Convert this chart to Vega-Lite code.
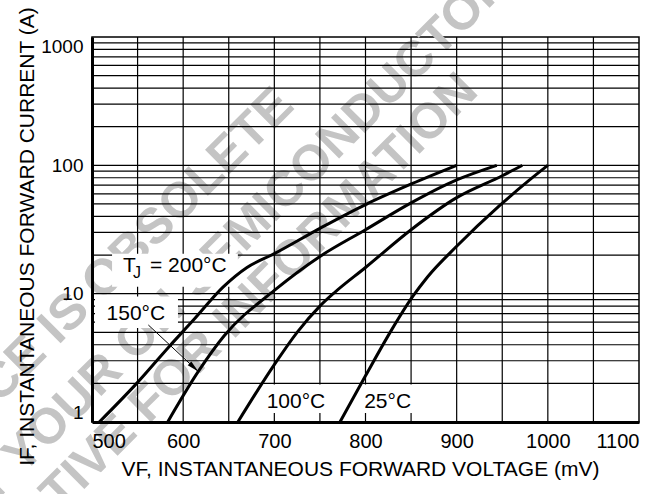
{
  "$schema": "https://vega.github.io/schema/vega-lite/v6.json",
  "autosize": "none",
  "width": 547,
  "height": 385,
  "padding": {"left": 92, "top": 37, "right": 25, "bottom": 72},
  "background": "white",
  "config": {
    "view": {"stroke": "black", "strokeWidth": 1.5},
    "font": "Liberation Sans",
    "axis": {"grid": false, "ticks": false, "tickSize": 0, "domainColor": "black", "domainWidth": 3, "labelColor": "black", "titleColor": "black", "labelFont": "Liberation Sans", "titleFont": "Liberation Sans", "titleFontWeight": "normal", "labelOverlap": false, "labelFlush": true, "labelPadding": 9, "titleFontSize": 21, "titleBaseline": "alphabetic"},
    "axisX": {"labelFontSize": 20, "titleX": 268, "titleY": 53},
    "axisY": {"labelFontSize": 19, "titleX": -59, "titleY": 199}
  },
  "datasets": {
    "curves": [
      {"t": "200", "v": 508, "i": 1}, {"t": "200", "v": 549, "i": 2}, {"t": "200", "v": 585, "i": 3.9}, {"t": "200", "v": 611, "i": 6.2}, {"t": "200", "v": 644, "i": 11.3}, {"t": "200", "v": 670, "i": 16}, {"t": "200", "v": 700, "i": 20.5}, {"t": "200", "v": 750, "i": 32.3}, {"t": "200", "v": 800, "i": 49.5}, {"t": "200", "v": 851, "i": 72}, {"t": "200", "v": 900, "i": 100},
      {"t": "150", "v": 583, "i": 1}, {"t": "150", "v": 617, "i": 2.5}, {"t": "150", "v": 645, "i": 4.7}, {"t": "150", "v": 700, "i": 10.6}, {"t": "150", "v": 750, "i": 19.5}, {"t": "150", "v": 800, "i": 31.5}, {"t": "150", "v": 850, "i": 51}, {"t": "150", "v": 900, "i": 77}, {"t": "150", "v": 944, "i": 100},
      {"t": "100", "v": 660, "i": 1}, {"t": "100", "v": 700, "i": 2.8}, {"t": "100", "v": 725, "i": 5}, {"t": "100", "v": 750, "i": 8}, {"t": "100", "v": 766, "i": 10.2}, {"t": "100", "v": 800, "i": 16}, {"t": "100", "v": 850, "i": 31.5}, {"t": "100", "v": 900, "i": 56}, {"t": "100", "v": 950, "i": 83}, {"t": "100", "v": 972, "i": 100},
      {"t": "25", "v": 772, "i": 1}, {"t": "25", "v": 800, "i": 2.29}, {"t": "25", "v": 828, "i": 5.13}, {"t": "25", "v": 852, "i": 9.55}, {"t": "25", "v": 868, "i": 13.5}, {"t": "25", "v": 900, "i": 23.4}, {"t": "25", "v": 947, "i": 48.5}, {"t": "25", "v": 979, "i": 76}, {"t": "25", "v": 1000, "i": 100}
    ],
    "vgrid": [{"v": 550}, {"v": 600}, {"v": 650}, {"v": 700}, {"v": 750}, {"v": 800}, {"v": 850}, {"v": 900}, {"v": 950}, {"v": 1000}, {"v": 1050}],
    "hgrid": [{"i": 2}, {"i": 3}, {"i": 4}, {"i": 5}, {"i": 6}, {"i": 7}, {"i": 8}, {"i": 9}, {"i": 10}, {"i": 20}, {"i": 30}, {"i": 40}, {"i": 50}, {"i": 60}, {"i": 70}, {"i": 80}, {"i": 90}, {"i": 100}, {"i": 200}, {"i": 300}, {"i": 400}, {"i": 500}, {"i": 600}, {"i": 700}, {"i": 800}, {"i": 900}],
    "boxes": [
      {"v": 522, "v2": 660, "i": 11.3, "i2": 20.5},
      {"v": 503.3, "v2": 594.3, "i": 5.4, "i2": 9.5},
      {"v": 686.5, "v2": 763, "i": 1.175, "i2": 1.96},
      {"v": 791.8, "v2": 855.4, "i": 1.175, "i2": 1.96}
    ],
    "labels": [
      {"t": "T", "v": 534, "i": 14.75},
      {"t": "= 200°C", "v": 563.6, "i": 14.75},
      {"t": "150°C", "v": 516, "i": 6.24},
      {"t": "100°C", "v": 691.6, "i": 1.285},
      {"t": "25°C", "v": 798.5, "i": 1.285}
    ],
    "subs": [{"t": "J", "v": 545, "i": 13.28}],
    "arrow": [{"v": 561.8, "i": 5.7, "v2": 616.6, "i2": 2.47}],
    "watermark": [
      {"t": "THIS DEVICE IS OBSOLETE", "v": 712, "i": 340},
      {"t": "CONTACT YOUR ON SEMICONDUCTOR", "v": 950, "i": 3100},
      {"t": "REPRESENTATIVE FOR INFORMATION", "v": 914, "i": 441}
    ]
  },
  "layer": [
    {
      "data": {"name": "watermark"},
      "mark": {"type": "text", "angle": -45, "align": "right", "baseline": "middle", "fontSize": 50, "fontWeight": "bold", "font": "Liberation Sans", "color": "#c4c4c4"},
      "encoding": {
        "x": {"field": "v", "type": "quantitative", "scale": {"domain": [500, 1100], "nice": false, "zero": false}, "axis": {"values": [500, 600, 700, 800, 900, 1000, 1100], "format": "d", "zindex": 1, "title": "VF, INSTANTANEOUS FORWARD VOLTAGE (mV)"}},
        "y": {"field": "i", "type": "quantitative", "scale": {"type": "log", "domain": [1, 1000], "nice": false}, "axis": {"values": [1, 10, 100, 1000], "format": "d", "zindex": 1, "title": "IF, INSTANTANEOUS FORWARD CURRENT (A)"}},
        "text": {"field": "t"}
      }
    },
    {
      "data": {"name": "vgrid"},
      "mark": {"type": "rule", "color": "black", "strokeWidth": 1.2},
      "encoding": {"x": {"field": "v", "type": "quantitative", "scale": {"domain": [500, 1100], "nice": false, "zero": false}, "axis": {"values": [500, 600, 700, 800, 900, 1000, 1100], "format": "d", "zindex": 1, "title": "VF, INSTANTANEOUS FORWARD VOLTAGE (mV)"}}}
    },
    {
      "data": {"name": "hgrid"},
      "mark": {"type": "rule", "color": "black", "strokeWidth": 1.2},
      "encoding": {"y": {"field": "i", "type": "quantitative", "scale": {"type": "log", "domain": [1, 1000], "nice": false}, "axis": {"values": [1, 10, 100, 1000], "format": "d", "zindex": 1, "title": "IF, INSTANTANEOUS FORWARD CURRENT (A)"}}}
    },
    {
      "data": {"name": "boxes"},
      "mark": {"type": "rect", "color": "white"},
      "encoding": {
        "x": {"field": "v", "type": "quantitative", "scale": {"domain": [500, 1100], "nice": false, "zero": false}, "axis": {"values": [500, 600, 700, 800, 900, 1000, 1100], "format": "d", "zindex": 1, "title": "VF, INSTANTANEOUS FORWARD VOLTAGE (mV)"}},
        "x2": {"field": "v2"},
        "y": {"field": "i", "type": "quantitative", "scale": {"type": "log", "domain": [1, 1000], "nice": false}, "axis": {"values": [1, 10, 100, 1000], "format": "d", "zindex": 1, "title": "IF, INSTANTANEOUS FORWARD CURRENT (A)"}},
        "y2": {"field": "i2"}
      }
    },
    {
      "data": {"name": "curves"},
      "mark": {"type": "line", "color": "black", "strokeWidth": 3, "interpolate": "monotone"},
      "encoding": {
        "x": {"field": "v", "type": "quantitative", "scale": {"domain": [500, 1100], "nice": false, "zero": false}, "axis": {"values": [500, 600, 700, 800, 900, 1000, 1100], "format": "d", "zindex": 1, "title": "VF, INSTANTANEOUS FORWARD VOLTAGE (mV)"}},
        "y": {"field": "i", "type": "quantitative", "scale": {"type": "log", "domain": [1, 1000], "nice": false}, "axis": {"values": [1, 10, 100, 1000], "format": "d", "zindex": 1, "title": "IF, INSTANTANEOUS FORWARD CURRENT (A)"}},
        "detail": {"field": "t"},
        "order": {"field": "v", "type": "quantitative"}
      }
    },
    {
      "data": {"name": "arrow"},
      "mark": {"type": "rule", "color": "black", "strokeWidth": 1},
      "encoding": {
        "x": {"field": "v", "type": "quantitative", "scale": {"domain": [500, 1100], "nice": false, "zero": false}, "axis": {"values": [500, 600, 700, 800, 900, 1000, 1100], "format": "d", "zindex": 1, "title": "VF, INSTANTANEOUS FORWARD VOLTAGE (mV)"}},
        "y": {"field": "i", "type": "quantitative", "scale": {"type": "log", "domain": [1, 1000], "nice": false}, "axis": {"values": [1, 10, 100, 1000], "format": "d", "zindex": 1, "title": "IF, INSTANTANEOUS FORWARD CURRENT (A)"}},
        "x2": {"field": "v2"},
        "y2": {"field": "i2"}
      }
    },
    {
      "data": {"name": "arrow"},
      "mark": {"type": "point", "shape": "M0,0L-0.22,1L0.22,1Z", "angle": 133, "size": 576, "filled": true, "color": "black", "opacity": 1, "strokeWidth": 0},
      "encoding": {
        "x": {"field": "v2", "type": "quantitative", "scale": {"domain": [500, 1100], "nice": false, "zero": false}, "axis": {"values": [500, 600, 700, 800, 900, 1000, 1100], "format": "d", "zindex": 1, "title": "VF, INSTANTANEOUS FORWARD VOLTAGE (mV)"}},
        "y": {"field": "i2", "type": "quantitative", "scale": {"type": "log", "domain": [1, 1000], "nice": false}, "axis": {"values": [1, 10, 100, 1000], "format": "d", "zindex": 1, "title": "IF, INSTANTANEOUS FORWARD CURRENT (A)"}}
      }
    },
    {
      "data": {"name": "labels"},
      "mark": {"type": "text", "align": "left", "baseline": "alphabetic", "fontSize": 21, "font": "Liberation Sans", "color": "black"},
      "encoding": {
        "x": {"field": "v", "type": "quantitative", "scale": {"domain": [500, 1100], "nice": false, "zero": false}, "axis": {"values": [500, 600, 700, 800, 900, 1000, 1100], "format": "d", "zindex": 1, "title": "VF, INSTANTANEOUS FORWARD VOLTAGE (mV)"}},
        "y": {"field": "i", "type": "quantitative", "scale": {"type": "log", "domain": [1, 1000], "nice": false}, "axis": {"values": [1, 10, 100, 1000], "format": "d", "zindex": 1, "title": "IF, INSTANTANEOUS FORWARD CURRENT (A)"}},
        "text": {"field": "t"}
      }
    },
    {
      "data": {"name": "subs"},
      "mark": {"type": "text", "align": "left", "baseline": "alphabetic", "fontSize": 16, "font": "Liberation Sans", "color": "black"},
      "encoding": {
        "x": {"field": "v", "type": "quantitative", "scale": {"domain": [500, 1100], "nice": false, "zero": false}, "axis": {"values": [500, 600, 700, 800, 900, 1000, 1100], "format": "d", "zindex": 1, "title": "VF, INSTANTANEOUS FORWARD VOLTAGE (mV)"}},
        "y": {"field": "i", "type": "quantitative", "scale": {"type": "log", "domain": [1, 1000], "nice": false}, "axis": {"values": [1, 10, 100, 1000], "format": "d", "zindex": 1, "title": "IF, INSTANTANEOUS FORWARD CURRENT (A)"}},
        "text": {"field": "t"}
      }
    }
  ]
}
